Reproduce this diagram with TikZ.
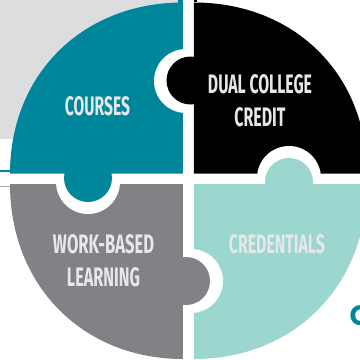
\documentclass[tikz,border=0pt]{standalone}
\usepackage{fontspec}
\setmainfont{Fira Sans}
\newfontfamily\headfont{Poppins}
\definecolor{tealc}{HTML}{00869B}
\definecolor{grayc}{HTML}{808285}
\definecolor{mintc}{HTML}{9BD7CE}
\definecolor{bgc}{HTML}{DCDDDF}
\definecolor{txtc}{HTML}{E6E7E8}
\newcommand{\fitw}[2]{\resizebox{#1pt}{19pt}{\bfseries #2}}
\tikzset{lbl/.style={text=txtc,inner sep=0pt,align=center}}
\begin{document}
\begin{tikzpicture}[x=1pt,y=-1pt]
\useasboundingbox (0,0) rectangle (360,360);
\clip (0,0) rectangle (360,360);
\fill[white] (0,0) rectangle (360,360);
\fill[bgc] (0,0) rectangle (181,139);
% side slivers
\fill[tealc] (0,170) rectangle (11,172);
\fill[grayc!70!white] (0,186.3) rectangle (11,187.3);
\fill[tealc] (178,0) rectangle (183,3);
\fill[black] (194,0) rectangle (197,2);
% quadrants
\def\kp{0.58}
\fill[tealc] (183,173.5) -- (10,173.5) .. controls (10,{173.5-171*\kp}) and ({183-173*\kp},2.5) .. (183,2.5) -- cycle;
\fill[black] (194,173.5) -- (367,173.5) .. controls (367,{173.5-171*\kp}) and ({194+173*\kp},2.5) .. (194,2.5) -- cycle;
\fill[grayc] (183,184) -- (10,184) .. controls (10,{184+175*\kp}) and ({183-173*\kp},359) .. (183,359) -- cycle;
\fill[mintc] (194,184) -- (367,184) .. controls (367,{184+175*\kp}) and ({194+173*\kp},359) .. (194,359) -- cycle;
% white halos, each inside its quadrant
\begin{scope}\clip (0,0) rectangle (183,173.5);\fill[white] (186,81) circle (32);\end{scope}
\begin{scope}\clip (194,0) rectangle (360,173.5);\fill[white] (289,178) circle (32);\end{scope}
\begin{scope}\clip (0,184) rectangle (183,360);\fill[white] (88,182) circle (32);\end{scope}
\begin{scope}\clip (194,184) rectangle (360,360);\fill[white] (191,281) circle (32);\end{scope}
% knobs
\begin{scope}\clip (160,50) rectangle (194.5,110);\fill[black] (190.5,80.5) circle (24);\end{scope}
\begin{scope}\clip (60,173) rectangle (116,210);\fill[tealc] (88,178) circle (24);\end{scope}
\begin{scope}\clip (260,150) rectangle (318,184.5);\fill[mintc] (289,182) circle (24);\end{scope}
\begin{scope}\clip (182.5,250) rectangle (215,310);\fill[grayc] (186,281) circle (24);\end{scope}
% labels
\node[lbl] (courses) at (97.5,106.5) {\fitw{65}{COURSES}};
\node[lbl] (dual) at (260,100.5) {\fitw{104}{DUAL COLLEGE}\\[12pt]\fitw{51}{CREDIT}};
\node[lbl] (work) at (103.5,260.5) {\fitw{101}{WORK-BASED}\\[12pt]\fitw{73}{LEARNING}};
\node[lbl] (cred) at (277,244.5) {\fitw{96}{CREDENTIALS}};
\node[anchor=west,inner sep=0pt,text=tealc] (c) at (349.5,316) {\headfont\fontsize{28}{28}\selectfont\bfseries C};
\end{tikzpicture}
\end{document}
